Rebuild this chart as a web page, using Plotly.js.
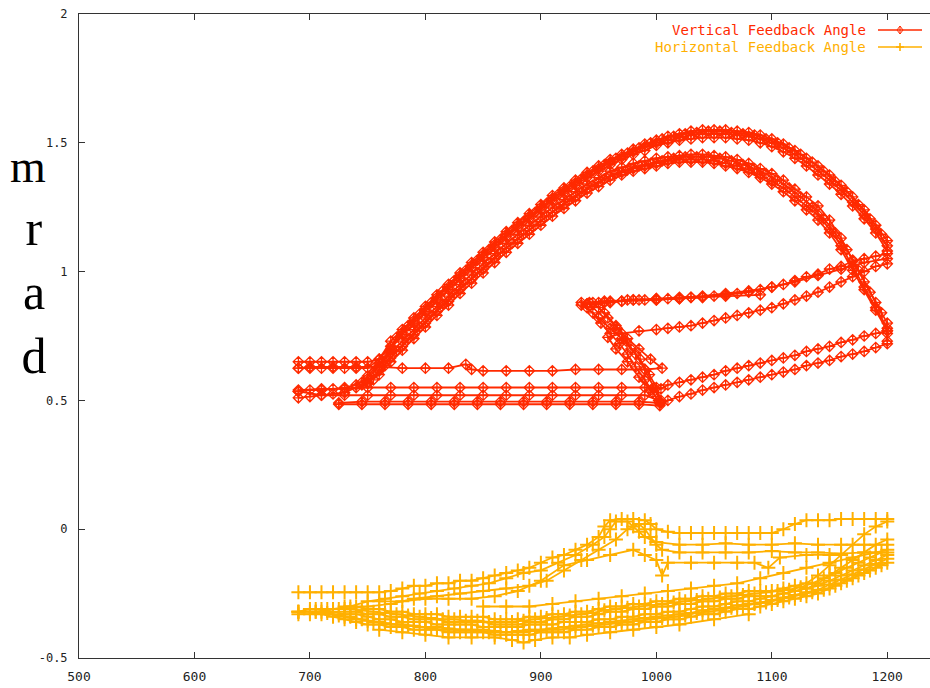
<!DOCTYPE html>
<html><head><meta charset="utf-8">
<script src="https://cdn.plot.ly/plotly-3.0.1.min.js"></script>
<style>html,body{margin:0;padding:0;background:#fff}#chart{width:930px;height:688px}</style>
</head><body><div id="chart"></div>
<script>
// ---------- data: Vertical Feedback Angle (ramp-up passes) ----------
const arcX = [690,700,710,720,730,740,750,760,770,780,790,800,810,820,830,840,850,860,870,880,890,900,910,920,930,940,950,960,970,980,990,1000,1010,1020,1030,1040,1050,1060,1070,1080,1090,1100,1110,1120,1130,1140,1150,1160,1170,1180,1190,1200];
const vUp1Y = [0.65,0.65,0.65,0.65,0.65,0.65,0.65,0.66,0.73,0.775,0.82,0.865,0.91,0.95,0.995,1.035,1.075,1.115,1.155,1.19,1.225,1.26,1.295,1.325,1.355,1.385,1.41,1.435,1.455,1.475,1.495,1.51,1.525,1.535,1.545,1.55,1.55,1.55,1.545,1.54,1.53,1.515,1.495,1.47,1.44,1.41,1.375,1.335,1.29,1.24,1.18,1.12];
const vUp2Y = [0.625,0.625,0.625,0.625,0.625,0.625,0.625,0.66,0.71,0.755,0.80,0.845,0.89,0.93,0.975,1.015,1.055,1.095,1.135,1.17,1.205,1.24,1.275,1.305,1.335,1.365,1.39,1.415,1.435,1.455,1.47,1.49,1.50,1.51,1.515,1.52,1.52,1.52,1.515,1.51,1.50,1.485,1.465,1.44,1.41,1.375,1.34,1.30,1.255,1.205,1.15,1.08];
const vUp3X = [690,700,710,720,730,740,750,760,770,780,790,800,810,820,830,840,850,860,870,880,890,900,910,920,930,940,950,960,970,980,990,1000,1010,1020,1030,1040,1050,1060,1070,1080,1090,1100,1110,1120,1130,1140,1150,1160,1170,1180,1190,1200,1200];
const vUp3Y = [0.535,0.54,0.54,0.545,0.55,0.56,0.585,0.635,0.685,0.73,0.775,0.82,0.865,0.905,0.95,0.99,1.03,1.07,1.11,1.145,1.18,1.215,1.25,1.28,1.31,1.34,1.365,1.39,1.405,1.42,1.43,1.44,1.445,1.45,1.455,1.455,1.45,1.445,1.435,1.42,1.40,1.38,1.355,1.32,1.29,1.255,1.20,1.13,1.045,0.96,0.88,0.80,0.76];
const vUp4Y = [0.51,0.515,0.52,0.525,0.53,0.55,0.565,0.615,0.665,0.71,0.755,0.80,0.845,0.885,0.93,0.97,1.01,1.05,1.09,1.125,1.16,1.195,1.23,1.26,1.29,1.32,1.345,1.37,1.385,1.40,1.41,1.42,1.43,1.435,1.435,1.435,1.43,1.42,1.41,1.395,1.375,1.35,1.325,1.29,1.255,1.22,1.165,1.10,1.02,0.94,0.86,0.78,0.73];
const vUp5X = [745,750,760,770,780,790,800,810,820,830,840,850,860,870,880,890,900,910,920,930,940,950,960,970,980,990,1000,1010,1020,1030,1040,1050,1060,1070,1080,1090,1100,1110,1120,1130,1140,1150,1160,1170,1180,1190,1200];
const vUp5Y = [0.57,0.595,0.645,0.695,0.765,0.81,0.855,0.90,0.94,0.985,1.025,1.065,1.105,1.145,1.18,1.215,1.25,1.285,1.315,1.345,1.375,1.40,1.425,1.445,1.465,1.485,1.50,1.51,1.52,1.53,1.535,1.535,1.535,1.53,1.525,1.515,1.50,1.48,1.455,1.425,1.39,1.355,1.315,1.27,1.22,1.165,1.10];
const vUp6Y = [0.56,0.57,0.60,0.65,0.695,0.74,0.785,0.83,0.87,0.915,0.955,0.995,1.035,1.075,1.11,1.145,1.18,1.215,1.245,1.275,1.305,1.33,1.355,1.375,1.39,1.40,1.41,1.42,1.425,1.425,1.425,1.42,1.41,1.40,1.385,1.365,1.34,1.31,1.275,1.24,1.20,1.15,1.085,1.005,0.93,0.85,0.77];
const vUp7X = [755,765,775,785,795,805,815,825,835,845,855,865,875,885,895,905,915,925,935,945,955,965,975,985,995,1005,1015,1025,1035,1045,1055,1065,1075,1085,1095,1105,1115,1125,1135,1145,1155,1165,1175,1185,1195];
const vUp7Y = [0.61,0.67,0.745,0.79,0.835,0.88,0.925,0.965,1.005,1.045,1.085,1.125,1.16,1.195,1.23,1.265,1.30,1.33,1.36,1.39,1.415,1.44,1.46,1.48,1.50,1.515,1.525,1.535,1.54,1.545,1.545,1.54,1.535,1.53,1.515,1.50,1.48,1.455,1.425,1.39,1.35,1.31,1.26,1.205,1.145];
const vUp8Y = [0.58,0.635,0.69,0.74,0.785,0.83,0.875,0.915,0.955,0.995,1.035,1.075,1.11,1.145,1.18,1.215,1.25,1.28,1.31,1.335,1.36,1.38,1.395,1.41,1.42,1.43,1.44,1.445,1.445,1.445,1.44,1.43,1.415,1.40,1.38,1.355,1.325,1.29,1.25,1.205,1.15,1.085,1.005,0.92,0.84];

// ---------- data: Vertical Feedback Angle (ramp-down passes) ----------
const vDn1X = [1200,1190,1180,1170,1160,1150,1140,1130,1120,1110,1100,1090,1080,1070,1060,1050,1040,1030,1020,1010,1000,990,980,970,960,950,940,935,945,952,960,968,975,982,990,997,1003,985,965,945,925,905,885,865,845,825,805,785,765,745,725];
const vDn1Y = [1.07,1.06,1.05,1.04,1.02,1.01,0.99,0.98,0.965,0.95,0.94,0.93,0.92,0.915,0.91,0.905,0.90,0.90,0.895,0.895,0.89,0.89,0.89,0.885,0.88,0.88,0.875,0.87,0.84,0.80,0.76,0.72,0.68,0.63,0.58,0.53,0.49,0.495,0.495,0.495,0.495,0.495,0.495,0.495,0.495,0.495,0.495,0.495,0.495,0.495,0.49];
const vDn2X = [1200,1190,1180,1170,1160,1150,1140,1130,1120,1110,1100,1090,1080,1070,1060,1050,1040,1030,1020,1010,1000,985,970,958,965,975,985,995,1002,990,970,950,930,910,890,870,850,830,810,790,770,750,730,710,690];
const vDn2Y = [1.03,1.02,1.0,0.98,0.96,0.94,0.92,0.905,0.89,0.875,0.86,0.85,0.84,0.83,0.82,0.81,0.80,0.79,0.785,0.78,0.775,0.77,0.76,0.745,0.70,0.65,0.59,0.54,0.50,0.52,0.52,0.52,0.52,0.52,0.52,0.52,0.52,0.52,0.52,0.52,0.52,0.52,0.52,0.52,0.535];
const vDn3X = [1200,1190,1180,1170,1160,1150,1140,1130,1120,1110,1100,1090,1080,1070,1060,1050,1040,1030,1020,1010,1004,990,970,950,930,910,890,870,850,830,810,790,770,750,730,710,690];
const vDn3Y = [0.77,0.76,0.75,0.735,0.725,0.71,0.70,0.69,0.675,0.665,0.655,0.645,0.635,0.625,0.615,0.60,0.59,0.58,0.57,0.56,0.545,0.55,0.55,0.55,0.55,0.55,0.55,0.55,0.55,0.55,0.55,0.55,0.55,0.55,0.545,0.545,0.54];
const vDn4X = [1200,1190,1180,1170,1160,1150,1140,1130,1120,1110,1100,1090,1080,1070,1060,1050,1040,1030,1020,1010,1003,985,965,945,925,905,885,865,845,825,805,785,765,745,725];
const vDn4Y = [0.72,0.705,0.69,0.68,0.67,0.655,0.645,0.635,0.62,0.61,0.60,0.59,0.58,0.57,0.56,0.55,0.54,0.525,0.515,0.50,0.48,0.485,0.485,0.485,0.485,0.485,0.485,0.485,0.485,0.485,0.485,0.485,0.485,0.485,0.485];
const vDn5X = [1200,1180,1160,1140,1120,1100,1080,1060,1040,1020,1000,980,960,945,955,965,975,985,995,1005,990,970,950,930,910,890,870,850,840,835,820,800,780,760,740,720,700,690];
const vDn5Y = [1.05,1.035,1.01,0.985,0.96,0.94,0.925,0.915,0.905,0.90,0.895,0.89,0.885,0.88,0.84,0.79,0.74,0.70,0.66,0.625,0.62,0.62,0.62,0.62,0.615,0.615,0.615,0.615,0.62,0.64,0.625,0.625,0.625,0.63,0.63,0.63,0.63,0.625];
const vDn6X = [1040,1020,1000,985,970,955,940,935,940,950,960,970,978,986,994,1000,1004];
const vDn6Y = [0.90,0.895,0.89,0.89,0.885,0.88,0.875,0.88,0.86,0.82,0.78,0.74,0.70,0.66,0.60,0.55,0.50];
const vDn7X = [1090,1060,1030,1000,975,955,942,950,958,966,974,982,990,998,1004];
const vDn7Y = [0.91,0.905,0.90,0.895,0.89,0.885,0.88,0.86,0.82,0.78,0.73,0.68,0.62,0.55,0.49];

// ---------- data: Horizontal Feedback Angle ----------
const hBand1Y = [-0.32,-0.32,-0.33,-0.34,-0.35,-0.36,-0.37,-0.37,-0.38,-0.38,-0.39,-0.39,-0.39,-0.40,-0.40,-0.40,-0.40,-0.41,-0.41,-0.41,-0.41,-0.40,-0.40,-0.40,-0.39,-0.39,-0.38,-0.38,-0.37,-0.37,-0.36,-0.36,-0.35,-0.35,-0.34,-0.33,-0.33,-0.32,-0.31,-0.31,-0.30,-0.29,-0.28,-0.27,-0.26,-0.25,-0.23,-0.21,-0.19,-0.17,-0.15,-0.13];
const hBand2Y = [-0.32,-0.31,-0.31,-0.32,-0.33,-0.33,-0.34,-0.35,-0.35,-0.36,-0.36,-0.36,-0.37,-0.37,-0.37,-0.37,-0.38,-0.38,-0.38,-0.38,-0.37,-0.37,-0.37,-0.36,-0.36,-0.36,-0.35,-0.35,-0.34,-0.34,-0.33,-0.33,-0.32,-0.32,-0.31,-0.30,-0.30,-0.29,-0.28,-0.28,-0.27,-0.26,-0.25,-0.24,-0.23,-0.22,-0.20,-0.18,-0.16,-0.14,-0.12,-0.10];
const hBand5Y = [-0.33,-0.33,-0.32,-0.33,-0.34,-0.35,-0.355,-0.36,-0.37,-0.37,-0.375,-0.38,-0.38,-0.385,-0.39,-0.39,-0.39,-0.395,-0.40,-0.395,-0.39,-0.39,-0.385,-0.38,-0.375,-0.37,-0.365,-0.36,-0.355,-0.35,-0.345,-0.34,-0.335,-0.33,-0.325,-0.315,-0.31,-0.305,-0.295,-0.29,-0.285,-0.275,-0.265,-0.255,-0.245,-0.235,-0.215,-0.195,-0.175,-0.155,-0.135,-0.115];
const hBand3X = [730,740,750,760,770,780,790,800,810,820,830,840,850,860,870,880,890,900,910,920,930,940,950,960,970,980,990,1000,1010,1020,1030,1040,1050,1060,1070,1080,1090,1100,1110,1120,1130,1140,1150,1160,1170,1180,1190,1200];
const hBand3Y = [-0.30,-0.30,-0.31,-0.31,-0.32,-0.32,-0.33,-0.33,-0.33,-0.34,-0.34,-0.34,-0.34,-0.35,-0.35,-0.35,-0.34,-0.34,-0.33,-0.33,-0.32,-0.32,-0.31,-0.30,-0.30,-0.29,-0.29,-0.28,-0.28,-0.27,-0.27,-0.26,-0.26,-0.25,-0.25,-0.24,-0.24,-0.24,-0.23,-0.22,-0.21,-0.18,-0.14,-0.10,-0.06,-0.02,0.01,0.03];
const hBand7Y = [-0.32,-0.32,-0.33,-0.33,-0.34,-0.34,-0.35,-0.35,-0.35,-0.36,-0.36,-0.36,-0.36,-0.37,-0.37,-0.37,-0.36,-0.36,-0.35,-0.35,-0.34,-0.34,-0.33,-0.32,-0.32,-0.31,-0.31,-0.30,-0.30,-0.29,-0.29,-0.28,-0.28,-0.27,-0.27,-0.26,-0.26,-0.26,-0.25,-0.24,-0.23,-0.21,-0.18,-0.15,-0.12,-0.09,-0.06,-0.04];
const hBand8X = [705,715,725,735,745,755,765,775,785,795,805,815,825,835,845,855,865,875,885,895,905,915,925,935,945,955,965,975,985,995,1005,1015,1025,1035,1045,1055,1065,1075,1085,1095,1105,1115,1125,1135,1145,1155,1165,1175,1185,1195];
const hBand8Y = [-0.32,-0.325,-0.335,-0.34,-0.35,-0.36,-0.365,-0.37,-0.375,-0.38,-0.385,-0.39,-0.39,-0.39,-0.395,-0.40,-0.40,-0.40,-0.40,-0.395,-0.39,-0.39,-0.385,-0.38,-0.375,-0.37,-0.365,-0.36,-0.355,-0.35,-0.345,-0.34,-0.335,-0.325,-0.32,-0.315,-0.305,-0.30,-0.29,-0.285,-0.275,-0.265,-0.255,-0.245,-0.235,-0.22,-0.20,-0.18,-0.16,-0.14];
const hBand9Y = [-0.31,-0.31,-0.31,-0.31,-0.315,-0.32,-0.325,-0.33,-0.335,-0.34,-0.345,-0.35,-0.35,-0.355,-0.355,-0.36,-0.36,-0.36,-0.355,-0.35,-0.345,-0.34,-0.335,-0.33,-0.325,-0.315,-0.31,-0.305,-0.30,-0.295,-0.29,-0.285,-0.28,-0.275,-0.27,-0.265,-0.26,-0.255,-0.25,-0.245,-0.24,-0.235,-0.225,-0.21,-0.19,-0.17,-0.15,-0.13,-0.11,-0.09];
const hBand4X = [850,870,890,910,930,950,970,990,1010,1030,1050,1070,1090,1110,1130,1150,1170,1190,1200];
const hBand4Y = [-0.30,-0.30,-0.30,-0.29,-0.28,-0.27,-0.26,-0.25,-0.24,-0.23,-0.22,-0.21,-0.19,-0.17,-0.15,-0.13,-0.11,-0.09,-0.08];
const hBand6X = [760,780,800,820,840,860,875,885,895,910,925,940,960,980,1000,1020,1050,1080];
const hBand6Y = [-0.39,-0.40,-0.41,-0.42,-0.42,-0.42,-0.43,-0.44,-0.43,-0.42,-0.42,-0.41,-0.40,-0.39,-0.38,-0.37,-0.35,-0.33];
const hRet1X = [1200,1190,1180,1170,1160,1150,1140,1130,1120,1110,1100,1090,1080,1070,1060,1050,1040,1030,1020,1010,1000,995,990,980,970,960,955,950,940,930,920,910,900,890,880,870,860,850,840,830,820,810,800,790,780,770,760,750,740,730,720,710,700,690];
const hRet1Y = [0.04,0.04,0.04,0.04,0.04,0.035,0.035,0.035,0.02,0.0,-0.015,-0.015,-0.015,-0.015,-0.015,-0.015,-0.015,-0.015,-0.015,-0.01,0.0,0.02,0.035,0.04,0.04,0.035,0.01,-0.03,-0.06,-0.08,-0.10,-0.11,-0.13,-0.15,-0.16,-0.17,-0.18,-0.19,-0.20,-0.20,-0.21,-0.21,-0.22,-0.22,-0.23,-0.24,-0.245,-0.245,-0.245,-0.245,-0.245,-0.245,-0.245,-0.245];
const hRet2X = [1200,1180,1160,1140,1120,1100,1080,1060,1040,1020,1000,990,985,980,975,965,960,955,945,930,915,900,885,870,855,840,825,810,795,780,765,750,735,720,705,690];
const hRet2Y = [-0.06,-0.06,-0.06,-0.06,-0.055,-0.06,-0.06,-0.055,-0.06,-0.06,-0.05,-0.03,-0.01,0.01,0.03,0.03,0.0,-0.03,-0.06,-0.10,-0.13,-0.16,-0.17,-0.19,-0.21,-0.22,-0.23,-0.24,-0.25,-0.26,-0.27,-0.28,-0.30,-0.31,-0.32,-0.32];
const hRet3X = [1200,1180,1160,1140,1120,1100,1080,1060,1040,1020,1005,1000,995,990,985,975,965,950,935,920,905,890,870,850,830,810,790,770,750,730];
const hRet3Y = [-0.09,-0.09,-0.095,-0.09,-0.09,-0.085,-0.09,-0.09,-0.09,-0.09,-0.08,-0.06,-0.03,0.0,0.02,0.0,-0.04,-0.08,-0.12,-0.16,-0.20,-0.22,-0.23,-0.24,-0.25,-0.26,-0.27,-0.29,-0.30,-0.31];
const hRet4X = [1150,1130,1107,1097,1085,1070,1050,1030,1010,1005,1000,990,980,960,940,920,900,880,860,840,820,800,780,760];
const hRet4Y = [-0.10,-0.10,-0.11,-0.15,-0.13,-0.13,-0.13,-0.13,-0.13,-0.18,-0.12,-0.10,-0.08,-0.10,-0.12,-0.14,-0.20,-0.24,-0.26,-0.27,-0.27,-0.27,-0.28,-0.28];

const xTicks = [500,600,700,800,900,1000,1100,1200];
const yTicks = [-0.5,0,0.5,1,1.5,2];
const yTickText = ['-0.5','0','0.5','1','1.5','2'];
const seriesNames = ['Vertical Feedback Angle','Horizontal Feedback Angle'];
const yTitleLetters = ['m','r','a','d'];

// ---------- styles ----------
const RED = '#ff2a00', ORANGE = '#ffb000';
function redTrace(x, y) {
  return {x: x, y: y, type: 'scatter', mode: 'lines+markers', name: seriesNames[0],
    legendgroup: 'v', showlegend: false, hoverinfo: 'x+y',
    line: {color: RED, width: 1.8},
    marker: {symbol: 'diamond-cross-open', size: 8, color: RED, line: {width: 1.3, color: RED}}};
}
function orangeTrace(x, y) {
  return {x: x, y: y, type: 'scatter', mode: 'lines+markers', name: seriesNames[1],
    legendgroup: 'h', showlegend: false, hoverinfo: 'x+y',
    line: {color: ORANGE, width: 1.8},
    marker: {symbol: 'cross-thin', size: 10, color: ORANGE, line: {width: 2, color: ORANGE}}};
}

const data = [
  redTrace(arcX, vUp1Y), redTrace(arcX, vUp2Y), redTrace(vUp3X, vUp3Y), redTrace(vUp3X, vUp4Y),
  redTrace(vUp5X, vUp5Y), redTrace(vUp5X, vUp6Y), redTrace(vUp7X, vUp7Y), redTrace(vUp7X, vUp8Y),
  redTrace(vDn1X, vDn1Y), redTrace(vDn2X, vDn2Y), redTrace(vDn3X, vDn3Y), redTrace(vDn4X, vDn4Y),
  redTrace(vDn5X, vDn5Y), redTrace(vDn6X, vDn6Y), redTrace(vDn7X, vDn7Y),
  orangeTrace(arcX, hBand1Y), orangeTrace(arcX, hBand2Y), orangeTrace(arcX, hBand5Y),
  orangeTrace(hBand3X, hBand3Y), orangeTrace(hBand3X, hBand7Y), orangeTrace(hBand8X, hBand8Y), orangeTrace(hBand8X, hBand9Y),
  orangeTrace(hBand4X, hBand4Y), orangeTrace(hBand6X, hBand6Y),
  orangeTrace(hRet1X, hRet1Y), orangeTrace(hRet2X, hRet2Y), orangeTrace(hRet3X, hRet3Y), orangeTrace(hRet4X, hRet4Y)
];

const xTickFont = {family: 'DejaVu Sans Mono, monospace', size: 13, color: '#222'};
const yTickFont = {family: 'DejaVu Sans Mono, monospace', size: 12, color: '#222'};
const legFont = {family: 'DejaVu Sans Mono, monospace', size: 14};
const L = 79, PW = 851, T = 14, PH = 644;
function px(v) { return (v - L) / PW; }
function py(v) { return 1 - (v - T) / PH; }
const legRows = [py(30), py(47)];
const letterRows = [py(166), py(228), py(292), py(356)];
const letterCols = [px(28), px(34), px(34), px(34)];
const letterSizes = [46, 50, 50, 50];

const annotations = yTitleLetters.map(function (ch, i) {
  return {xref: 'paper', yref: 'paper', x: letterCols[i], y: letterRows[i], xanchor: 'center', yanchor: 'middle',
    width: 44, height: 40, valign: 'middle', text: ch, showarrow: false,
    font: {family: 'Liberation Serif, serif', size: letterSizes[i], color: '#000'}};
});
annotations.push(
  {xref: 'paper', yref: 'paper', x: px(868), y: legRows[0], xanchor: 'right', yanchor: 'middle',
   text: seriesNames[0], showarrow: false, font: Object.assign({color: RED}, legFont)},
  {xref: 'paper', yref: 'paper', x: px(868), y: legRows[1], xanchor: 'right', yanchor: 'middle',
   text: seriesNames[1], showarrow: false, font: Object.assign({color: ORANGE}, legFont)}
);

const layout = {
  width: 930, height: 688,
  margin: {l: L, r: 0, t: T, b: 30, pad: 0},
  paper_bgcolor: '#fff', plot_bgcolor: '#fff',
  showlegend: false,
  xaxis: {range: [500, 1237], tickvals: xTicks, ticktext: xTicks.map(String),
    ticks: 'inside', ticklen: 6, tickwidth: 1, tickcolor: '#333',
    showline: true, linecolor: '#333', linewidth: 1, mirror: 'ticks',
    showgrid: false, zeroline: false, tickfont: xTickFont, ticklabelstandoff: 6},
  yaxis: {range: [-0.5, 2], tickvals: yTicks, ticktext: yTickText,
    ticks: 'inside', ticklen: 6, tickwidth: 1, tickcolor: '#333',
    showline: true, linecolor: '#333', linewidth: 1, mirror: false,
    showgrid: false, zeroline: false, tickfont: yTickFont, ticklabelstandoff: 8},
  annotations: annotations,
  shapes: [
    {type: 'line', xref: 'paper', yref: 'paper', x0: px(878), x1: px(922), y0: legRows[0], y1: legRows[0], line: {color: RED, width: 1.5}},
    {type: 'line', xref: 'paper', yref: 'paper', x0: px(878), x1: px(922), y0: legRows[1], y1: legRows[1], line: {color: ORANGE, width: 1.5}},
    {type: 'path', xref: 'paper', yref: 'paper', xsizemode: 'pixel', ysizemode: 'pixel', xanchor: px(900), yanchor: legRows[0],
     path: 'M-3,0 L0,4 L3,0 L0,-4 Z M0,-4 L0,4', line: {color: RED, width: 1}},
    {type: 'path', xref: 'paper', yref: 'paper', xsizemode: 'pixel', ysizemode: 'pixel', xanchor: px(900), yanchor: legRows[1],
     path: 'M-4,0 L4,0 M0,-4 L0,4', line: {color: ORANGE, width: 1.6}}
  ]
};

Plotly.newPlot('chart', data, layout, {displayModeBar: false, staticPlot: true});
</script>
</body></html>
